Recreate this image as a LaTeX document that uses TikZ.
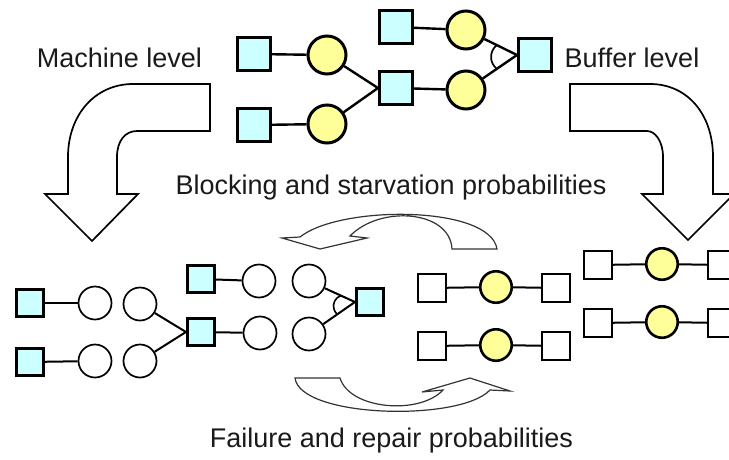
\documentclass[tikz,border=0pt]{standalone}
\usepackage{fontspec}
\setmainfont{Liberation Sans}
\definecolor{cyanfill}{HTML}{CCFFFF}
\definecolor{yelfill}{HTML}{FFFF99}
\definecolor{txt}{HTML}{1A1A1A}
\begin{document}
\begin{tikzpicture}[x=1pt,y=-1pt,
  tsq/.style={draw, rectangle, fill=cyanfill, line width=3pt, minimum size=33pt, inner sep=0pt},
  tci/.style={draw, circle, fill=yelfill, line width=3pt, minimum size=38pt, inner sep=0pt},
  bsq/.style={draw, rectangle, fill=cyanfill, line width=2.6pt, minimum size=27.5pt, inner sep=0pt},
  bci/.style={draw, circle, fill=white, line width=1.7pt, minimum size=33pt, inner sep=0pt},
  wsq/.style={draw, rectangle, fill=white, line width=1.7pt, minimum size=27.5pt, inner sep=0pt},
  yci/.style={draw, circle, fill=yelfill, line width=2.6pt, minimum size=31.5pt, inner sep=0pt},
  tcon/.style={line width=2.4pt},
  bcon/.style={line width=2pt},
  bigarrow/.style={draw, fill=white, line width=1.7pt, line join=miter},
  smallarrow/.style={draw=black!80, fill=white, line width=1.2pt, line join=miter},
  lbl/.style={font=\fontsize{27}{32}\selectfont, text=txt, anchor=base, inner sep=0pt}
]
\useasboundingbox (0,0) rectangle (729,459);
\begin{scope}
\clip (0,0) rectangle (729,459);

% big curved arrows
\path[bigarrow] (210,84) -- (133,84) .. controls (95,84) and (68,115) .. (68,157)
  -- (68,194) -- (45,194) -- (92,241) -- (138,194) -- (117,194) -- (117,157)
  .. controls (117,141) and (125,131) .. (137,131) -- (210,131) -- cycle;
\path[bigarrow] (570,84) -- (650,84) .. controls (688,84) and (713,115) .. (713,157)
  -- (713,194) -- (734,194) -- (688,240) -- (642,194) -- (663,194) -- (663,157)
  .. controls (663,141) and (655,131) .. (647,131) -- (570,131) -- cycle;

% small curved arrows
\path[smallarrow] (300,237) -- (282,238) -- (320,249) -- (367,238) -- (350,236)
  .. controls (380,205) and (450,210) .. (452,249) -- (497,249)
  .. controls (490,205) and (340,205) .. (300,237) -- cycle;
\path[smallarrow] (295,378) -- (340,378) .. controls (350,410) and (420,415) .. (443,390)
  -- (422,392) -- (470,378) -- (510,391) -- (490,390)
  .. controls (460,422) and (300,418) .. (295,378) -- cycle;

% labels
\node[lbl] (ml) at (119.5,67) {Machine level};
\node[lbl] (bl) at (632,67) {Buffer level};
\node[lbl] (bs) at (391,194) {Blocking and starvation probabilities};
\node[lbl] (fr) at (391.5,447) {Failure and repair probabilities};

% top network
\node[tsq] (A1) at (254,54) {};
\node[tsq] (A2) at (254,125) {};
\node[tci] (C1) at (327,55) {};
\node[tci] (C2) at (327,124) {};
\node[tsq] (B) at (396,88) {};
\node[tsq] (T) at (396,27) {};
\node[tci] (D1) at (466,30) {};
\node[tci] (D2) at (466,90) {};
\node[tsq] (E) at (535,55) {};
\draw[tcon] (A1) -- (C1);
\draw[tcon] (A2) -- (C2);
\draw[tcon] (C1) -- (B.west);
\draw[tcon] (C2) -- (B.west);
\draw[tcon] (B) -- (D2);
\draw[tcon] (T) -- (D1);
\draw[tcon] (D1) -- (E.west);
\draw[tcon] (D2) -- (E.west);
\draw[line width=1.7pt] (496.8,45.1) arc[start angle=232, end angle=128, radius=15];

% bottom-left network
\node[bsq] (L1) at (30,303) {};
\node[bci] (L1c) at (95,303) {};
\node[bci] (L1d) at (140,304) {};
\node[bsq] (L2) at (30,362) {};
\node[bci] (L2c) at (95,361) {};
\node[bci] (L2d) at (140,361) {};
\node[bsq] (M) at (201,332) {};
\node[bsq] (Mt) at (201,279) {};
\node[bci] (Mc) at (260,333) {};
\node[bci] (Mtc) at (259,281) {};
\node[bci] (Rt) at (309,281) {};
\node[bci] (Rb) at (309,334) {};
\node[bsq] (R) at (370,302) {};
\draw[bcon] (L1) -- (L1c);
\draw[bcon] (L2) -- (L2c);
\draw[bcon] (L1d) -- (M.west);
\draw[bcon] (L2d) -- (M.west);
\draw[bcon] (M) -- (Mc);
\draw[bcon] (Mt) -- (Mtc);
\draw[bcon] (Rt) -- (R.west);
\draw[bcon] (Rb) -- (R.west);
\draw[line width=1.6pt] (340.9,295.6) arc[start angle=251, end angle=131, radius=11];

% bottom-right buffer networks
\node[wsq] (S1) at (432,288) {};
\node[yci] (Y1) at (496,287) {};
\node[wsq] (S2) at (556,288) {};
\node[wsq] (S3) at (432,346) {};
\node[yci] (Y2) at (496,345) {};
\node[wsq] (S4) at (556,346) {};
\draw[bcon] (S1) -- (Y1); \draw[bcon] (Y1) -- (S2);
\draw[bcon] (S3) -- (Y2); \draw[bcon] (Y2) -- (S4);
\node[wsq] (S5) at (598,265) {};
\node[yci] (Y3) at (662,264) {};
\node[wsq] (S6) at (722,265) {};
\node[wsq] (S7) at (598,323) {};
\node[yci] (Y4) at (662,322) {};
\node[wsq] (S8) at (722,323) {};
\draw[bcon] (S5) -- (Y3); \draw[bcon] (Y3) -- (S6);
\draw[bcon] (S7) -- (Y4); \draw[bcon] (Y4) -- (S8);
\end{scope}
\end{tikzpicture}
\end{document}
